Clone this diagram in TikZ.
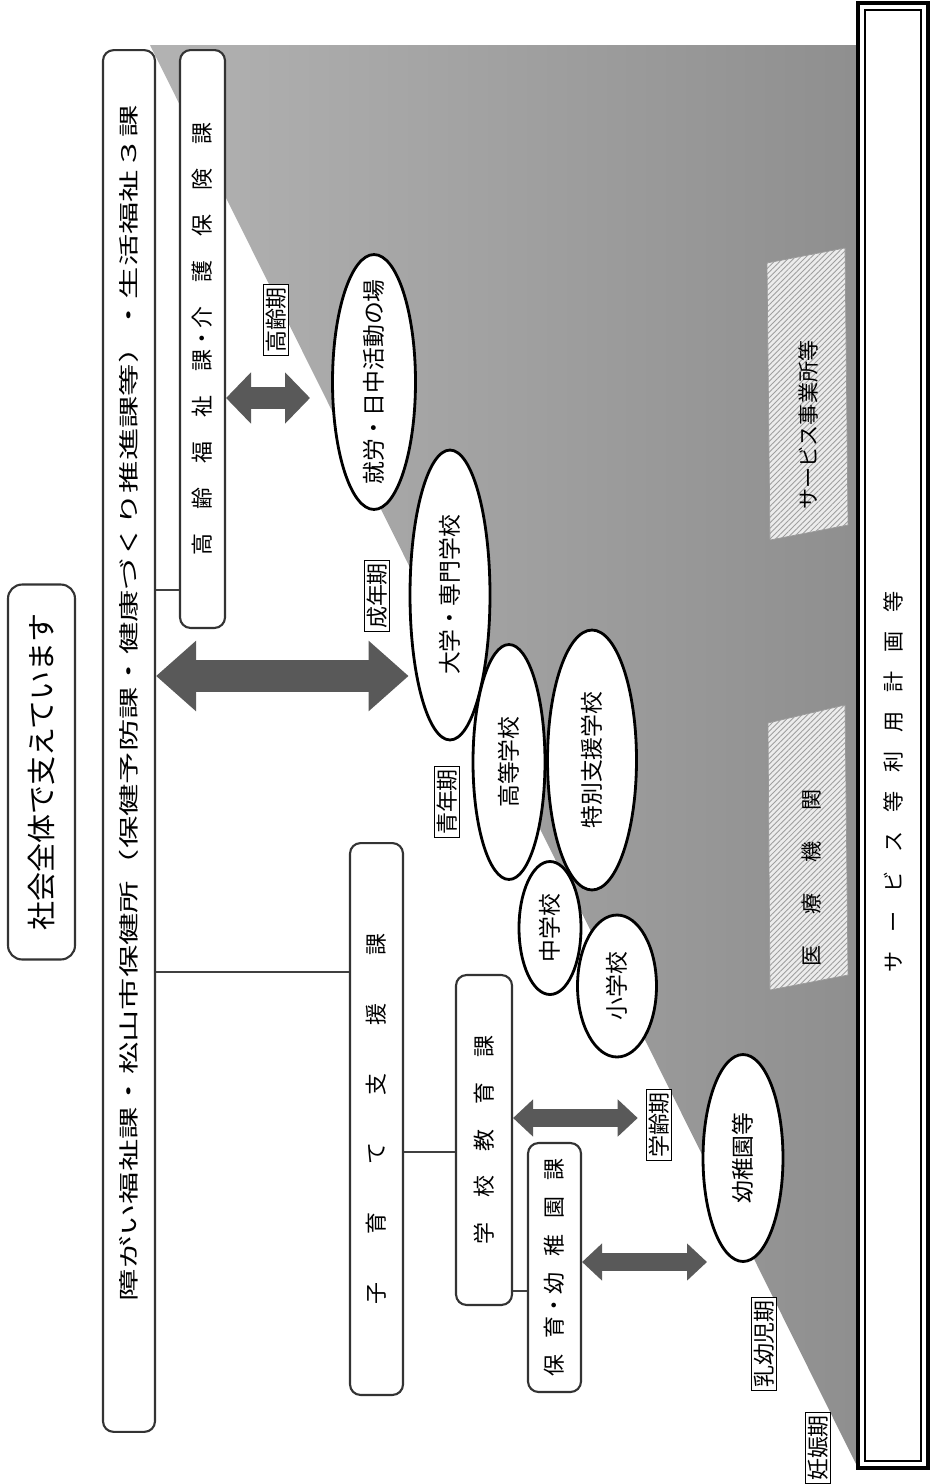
\documentclass[tikz,border=0pt]{standalone}
\usepackage{fontspec}
\setmainfont{Noto Sans CJK JP}
\newfontfamily\jpwide{Noto Sans CJK JP}[FakeStretch=1.6]
\usetikzlibrary{shapes.geometric, arrows.meta, patterns.meta}

\begin{document}
\begin{tikzpicture}[x=0.02cm, y=-0.02cm,
    box/.style={draw=black!80, line width=1.2pt, rounded corners=6pt, fill=white, rotate=90, inner sep=0pt, font=\fontsize{12.5}{14}\selectfont},
    oval/.style={ellipse, draw, line width=1.6pt, fill=white, rotate=90, inner sep=0pt, font=\fontsize{13}{15}\selectfont},
    period/.style={draw, line width=0.5pt, fill=white, rotate=90, inner sep=1.5pt, font=\fontsize{12.5}{14}\selectfont},
    hatch/.style={draw=gray!80, line width=0.4pt, preaction={fill=gray!15}, pattern={Lines[angle=45, distance=2.2pt, line width=0.5pt]}, pattern color=gray!75},
    link/.style={draw=black!75, line width=0.6pt},
    fat/.style n args={3}{draw=black!65, line width=#1, {Triangle[width=#2, length=#3]}-{Triangle[width=#2, length=#3]}}
]
    \useasboundingbox (0,0) rectangle (931,1484);

    % shaded life-stage area and the plan frame
    \shade[left color=black!30, right color=black!44] (150,45) -- (858,45) -- (858,1468) -- cycle;
    \draw[line width=1.8pt] (858,3) rectangle (928,1468);
    \draw[line width=0.7pt] (865,10) rectangle (921,1461);

    % offices
    \node[box, minimum width=7.5cm, minimum height=1.34cm, rounded corners=8pt, font=\fontsize{16.5}{18}\selectfont] (society) at (41.5,772) {社会全体で支えています};
    \node[box, minimum height=1.04cm, text width=25.44cm, align=right, inner xsep=1.1cm, font=\jpwide\fontsize{11.5}{13}\selectfont] (welfare) at (129,741) {障がい福祉課・松山市保健所（保健予防課・健康づくり推進課等）・生活福祉３課};
    \node[box, minimum width=11.56cm, minimum height=0.9cm] (elderly) at (202.5,339) {\def\gp{\hspace{0.48cm}}高\gp 齢\gp 福\gp 祉\gp 課・介\gp 護\gp 保\gp 険\gp 課};
    \node[box, minimum width=11.04cm, minimum height=1.06cm] (childcare) at (376.5,1119) {\def\gp{\hspace{0.96cm}}子\gp 育\gp て\gp 支\gp 援\gp 課};
    \node[box, minimum width=6.6cm, minimum height=1.12cm] (school) at (484,1140) {\def\gp{\hspace{0.5cm}}学\gp 校\gp 教\gp 育\gp 課};
    \node[box, minimum width=4.98cm, minimum height=1.06cm] (hoiku) at (554.5,1267.5) {\def\gp{\hspace{0.32cm}}保\gp 育・幼\gp 稚\gp 園\gp 課};

    % places
    \node[oval, minimum width=5.8cm, minimum height=1.6cm] (college) at (450,595) {大学・専門学校};
    \node[oval, minimum width=4.7cm, minimum height=1.44cm] (highschool) at (509,762) {高等学校};
    \node[oval, minimum width=5.2cm, minimum height=1.78cm] (special) at (592,760) {特別支援学校};
    \node[oval, minimum width=2.66cm, minimum height=1.24cm] (junior) at (550,928) {中学校};
    \node[oval, minimum width=2.84cm, minimum height=1.58cm] (elementary) at (617,986) {小学校};
    \node[oval, minimum width=4.14cm, minimum height=1.6cm] (kinder) at (743,1158) {幼稚園等};
    \node[oval, minimum width=5.1cm, minimum height=1.66cm, inner xsep=-0.6cm] (work) at (374,382) {就労・日中活動の場};

    % life stages
    \node[period] (elderage)  at (276,320)  {高齢期};
    \node[period] (adult)     at (377,596)  {成年期};
    \node[period] (youth)     at (447,802)  {青年期};
    \node[period] (schoolage) at (659,1125) {学齢期};
    \node[period] (infant)    at (764,1344) {乳幼児期};
    \node[period] (pregnancy) at (818,1448) {妊娠期};

    % services
    \draw[hatch] (767,263) -- (845,248) -- (848,525) -- (770,540) -- cycle;
    \node[rotate=90, font=\fontsize{12}{14}\selectfont] (service) at (808,425) {サービス事業所等};
    \draw[hatch] (768,723) -- (845,705) -- (848,975) -- (770,990) -- cycle;
    \node[rotate=90, font=\fontsize{12}{14}\selectfont] (medical) at (811,878) {\def\gp{\hspace{0.62cm}}医\gp 療\gp 機\gp 関};
    \node[rotate=90, font=\fontsize{12}{14}\selectfont] (plan) at (893,782) {\def\gp{\hspace{0.38cm}}サ\gp ー\gp ビ\gp ス\gp 等\gp 利\gp 用\gp 計\gp 画\gp 等};

    % levels of the connectors
    \coordinate (lvlbig)    at (0,676);
    \coordinate (elderend)  at (310,398);
    \coordinate (lvlschool) at (0,1118);
    \coordinate (nurseend)  at (707,1262);
    \coordinate (lvlold)    at (0,590);
    \coordinate (lvlchild)  at (0,972);
    \coordinate (lvlgakko)  at (0,1152);
    \coordinate (lvlhoiku)  at (0,1291);

    \draw[link] (welfare.south |- lvlold)     -- (elderly.north |- lvlold);
    \draw[link] (welfare.south |- lvlchild)   -- (childcare.north |- lvlchild);
    \draw[link] (childcare.south |- lvlgakko) -- (school.north |- lvlgakko);
    \draw[link] (school.south |- lvlhoiku)    -- (hoiku.north |- lvlhoiku);

    \draw[fat={0.64cm}{1.36cm}{0.8cm}] (welfare.south |- lvlbig) -- (college.north |- lvlbig);
    \draw[fat={0.44cm}{1.0cm}{0.5cm}] (elderly.south |- elderend) -- (elderend);
    \draw[fat={0.36cm}{0.72cm}{0.4cm}, shorten >=0.16cm] (school.south |- lvlschool) -- (schoolage.north |- lvlschool);
    \draw[fat={0.36cm}{0.72cm}{0.4cm}] (hoiku.south |- nurseend) -- (nurseend);
\end{tikzpicture}
\end{document}
